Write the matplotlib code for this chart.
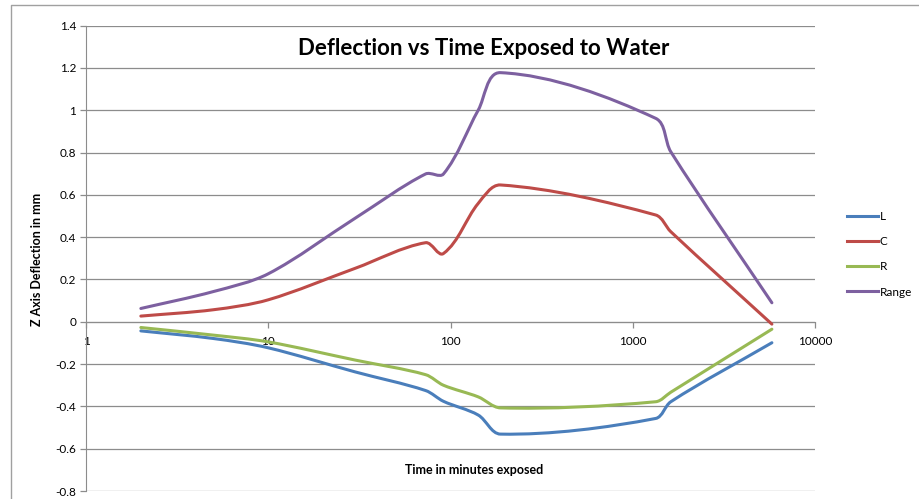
import numpy as np
import matplotlib
matplotlib.use('Agg')
import matplotlib.pyplot as plt
from matplotlib.path import Path
from matplotlib.patches import PathPatch
from matplotlib.lines import Line2D

# data (minutes exposed vs deflection in mm)
minutes = [2, 5, 10, 30, 73, 91.5, 142, 188, 1336, 1617, 5800]
defl_L = [-0.043, -0.079, -0.123, -0.237, -0.325, -0.376, -0.441, -0.531, -0.457, -0.378, -0.099]
defl_C = [0.027, 0.057, 0.104, 0.253, 0.374, 0.323, 0.560, 0.647, 0.505, 0.426, -0.011]
defl_R = [-0.027, -0.063, -0.095, -0.181, -0.250, -0.300, -0.355, -0.407, -0.378, -0.333, -0.035]
defl_range = [0.063, 0.143, 0.227, 0.490, 0.699, 0.699, 1.001, 1.178, 0.962, 0.804, 0.090]

series_names = ['L', 'C', 'R', 'Range']
series_colors = ['#4A7EBB', '#BE4B48', '#98B954', '#7D60A0']
x_ticks = [1, 10, 100, 1000, 10000]
y_ticks = [-0.8, -0.6, -0.4, -0.2, 0, 0.2, 0.4, 0.6, 0.8, 1, 1.2, 1.4]

plt.rcParams['font.family'] = ['Lato', 'DejaVu Sans']

W, H = 919, 499
grid_col = '#8C8C8C'


def smooth_path(x, y, xspan, yspan):
    # smoothed line like excel: cubic bezier through the points, tangent taken
    # from the neighbours, handle length from the segment itself (no loops)
    pts = np.column_stack([np.log10(x) / xspan, np.asarray(y) / yspan])
    n = len(pts)
    tang = np.zeros_like(pts)
    for i in range(n):
        d = pts[min(i + 1, n - 1)] - pts[max(i - 1, 0)]
        tang[i] = d / np.hypot(*d)
    verts = [pts[0]]
    codes = [Path.MOVETO]
    for i in range(n - 1):
        p1, p2 = pts[i], pts[i + 1]
        seg = np.hypot(*(p2 - p1)) * 0.32
        verts += [p1 + tang[i] * seg, p2 - tang[i + 1] * seg, p2]
        codes += [Path.CURVE4] * 3
    verts = np.array(verts)
    verts[:, 0] = 10 ** (verts[:, 0] * xspan)
    verts[:, 1] = verts[:, 1] * yspan
    return Path(verts, codes)


fig = plt.figure(figsize=(W / 100, H / 100), dpi=100)
ax = fig.add_axes([86 / W, 1 - 491 / H, (815 - 86) / W, (491 - 25.7) / H])

ax.set_xscale('log')
ax.set_xlim(1, 10000)
ax.set_ylim(-0.8, 1.4)
ax.set_yticks(y_ticks)
ax.set_yticklabels(['%g' % v for v in y_ticks])
ax.set_xticks(x_ticks)
ax.set_xticklabels(['%d' % v for v in x_ticks])
ax.xaxis.set_minor_locator(matplotlib.ticker.NullLocator())

ax.grid(axis='y', color=grid_col, linewidth=0.9)
ax.set_axisbelow(True)
for s in ['top', 'right']:
    ax.spines[s].set_visible(False)
ax.spines['bottom'].set_position(('data', 0))
ax.spines['bottom'].set_color(grid_col)
ax.spines['left'].set_color(grid_col)
ax.tick_params(axis='both', colors=grid_col, labelcolor='black', labelsize=8.5,
               length=4, width=0.9)
ax.tick_params(axis='y', pad=3)
ax.tick_params(axis='x', pad=6)

# scale of the plot box in pixels so the smoothing works in screen proportions
xspan = 4.0 / (815 - 86)
yspan = 2.2 / (491 - 25.7)

handles = []
for name, col, vals in zip(series_names, series_colors, [defl_L, defl_C, defl_R, defl_range]):
    patch = PathPatch(smooth_path(minutes, vals, xspan, yspan), facecolor='none', edgecolor=col,
                      linewidth=2.2, capstyle='round', joinstyle='round', zorder=3)
    ax.add_patch(patch)
    handles.append(Line2D([], [], color=col, linewidth=2.2, label=name))

fig.legend(handles=handles, loc='upper left', bbox_to_anchor=(847 / W, 1 - 211 / H),
           frameon=False, fontsize=8.5, handlelength=2.6, handletextpad=0.15,
           labelspacing=1.2, borderpad=0, borderaxespad=0)

fig.text(483.5 / W, 1 - 48.5 / H, 'Deflection vs Time Exposed to Water',
         ha='center', va='center', fontsize=16, fontweight='bold')
fig.text(474.5 / W, 1 - 470 / H, 'Time in minutes exposed',
         ha='center', va='center', fontsize=9, fontweight='bold')
fig.text(37 / W, 1 - 259 / H, 'Z Axis Deflection in mm', rotation=90,
         ha='center', va='center', fontsize=9, fontweight='bold')

# chart area border (only left and top edges are inside the picture)
fig.add_artist(Line2D([11 / W, 11 / W, 1], [0, 1 - 5 / H, 1 - 5 / H],
                      transform=fig.transFigure, color='#A0A0A0', linewidth=1))

fig.savefig('out.png', dpi=100)
